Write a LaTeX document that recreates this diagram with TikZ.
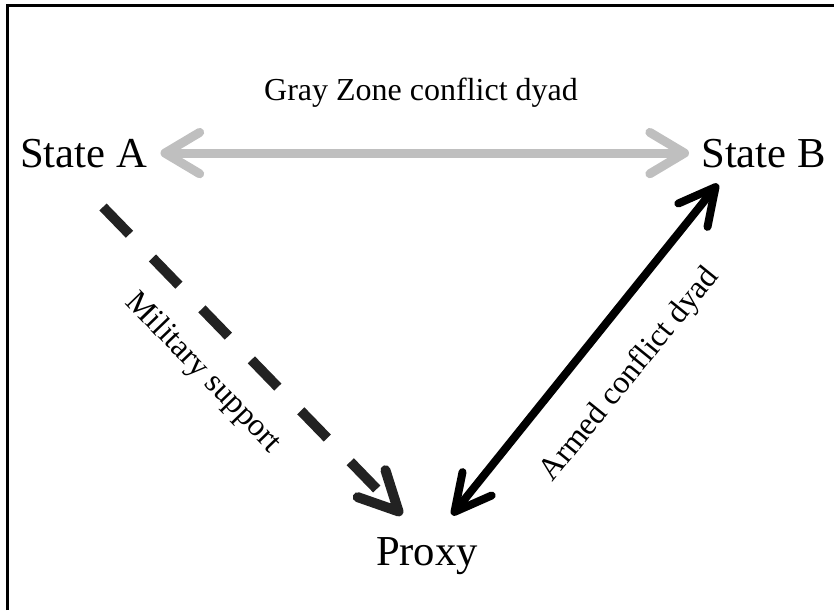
\documentclass[tikz,border=0pt]{standalone}
\usepackage{fontspec}
\setmainfont{Liberation Serif}
\usetikzlibrary{arrows.meta}
\definecolor{zonegray}{RGB}{191,191,191}
\definecolor{darkdash}{RGB}{34,34,34}
\begin{document}
\begin{tikzpicture}[x=0.75pt,y=-0.75pt,
  big/.style={font=\fontsize{32}{38}\selectfont, inner sep=0pt, anchor=base},
  lbl/.style={font=\fontsize{24}{29}\selectfont, inner sep=0pt},
  frameline/.style={line width=2.25pt, line cap=butt},
  grayarrow/.style={draw=zonegray, line width=6.75pt,
    {Straight Barb[length=26pt,width=31pt,round]}-{Straight Barb[length=26pt,width=31pt,round]}},
  supportarrow/.style={draw=darkdash, line width=7.5pt, dash pattern=on 28.5pt off 24.75pt,
    -{Straight Barb[length=29pt,width=29pt,round]}},
  armedarrow/.style={draw=black, line width=6pt,
    {Straight Barb[length=27pt,width=28pt,round]}-{Straight Barb[length=27pt,width=28pt,round]}}
]
\useasboundingbox (0,0) rectangle (834,610);
\draw[frameline] (7,610) -- (7,6) -- (834,6);

\node[big] (A) at (83.5,167) {State A};
\node[big] (B) at (763.5,167) {State B};
\node[big] (P) at (427,565) {Proxy};

\node[lbl] (glabel) at (421,93) {Gray Zone conflict dyad};
\node[lbl, rotate=-46] (mlabel) at (203,373) {Military support};
\node[lbl, rotate=51] (alabel) at (630,375) {Armed conflict dyad};

\coordinate (ms) at (103,207);
\coordinate (me) at (402,515);
\coordinate (ae) at (452,515);
\coordinate (as) at (718,184);

\draw[grayarrow, shorten <=10pt, shorten >=9pt] (A.east) -- (B.west);
\draw[supportarrow] (ms) -- (me);
\draw[armedarrow] (ae) -- (as);
\end{tikzpicture}
\end{document}
